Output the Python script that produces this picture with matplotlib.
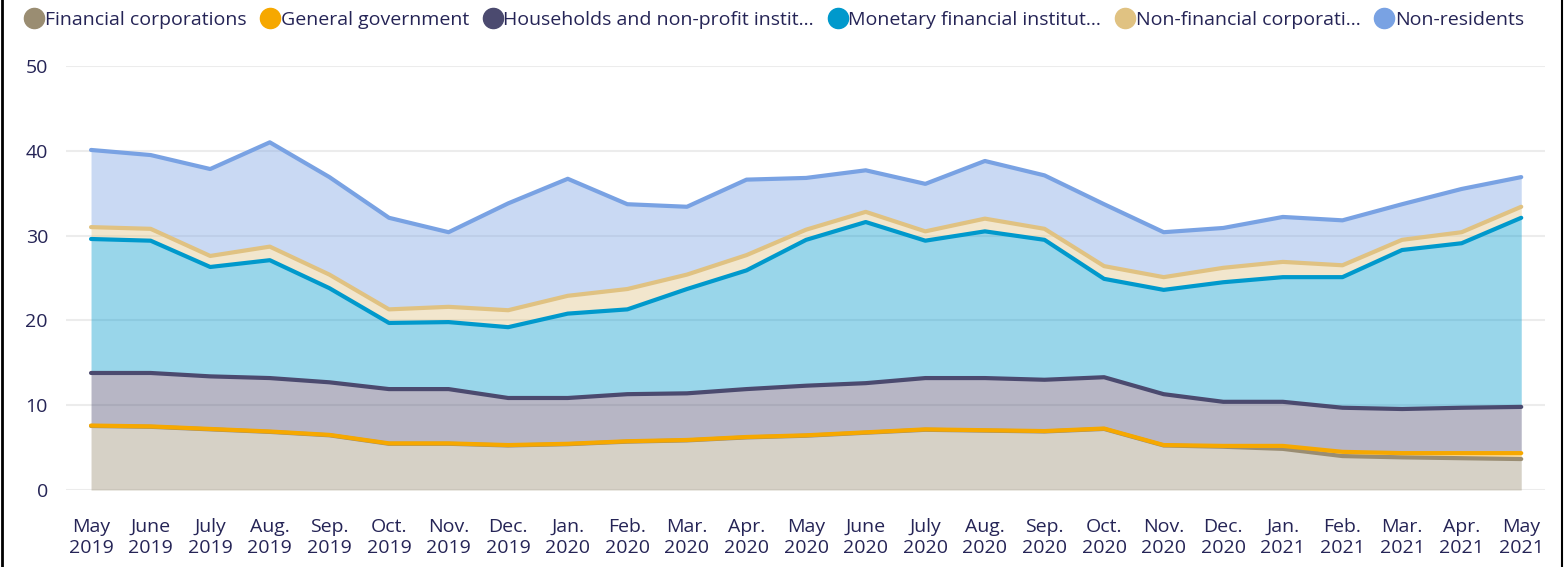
import numpy as np
import matplotlib
matplotlib.use("Agg")
import matplotlib.pyplot as plt
from matplotlib.lines import Line2D

plt.rcParams['font.family'] = ['Open Sans', 'DejaVu Sans']

months = ["May\n2019", "June\n2019", "July\n2019", "Aug.\n2019", "Sep.\n2019", "Oct.\n2019",
          "Nov.\n2019", "Dec.\n2019", "Jan.\n2020", "Feb.\n2020", "Mar.\n2020", "Apr.\n2020",
          "May\n2020", "June\n2020", "July\n2020", "Aug.\n2020", "Sep.\n2020", "Oct.\n2020",
          "Nov.\n2020", "Dec.\n2020", "Jan.\n2021", "Feb.\n2021", "Mar.\n2021", "Apr.\n2021",
          "May\n2021"]

# holdings by sector, stacked bottom to top
financial_corps = [7.55, 7.45, 7.15, 6.85, 6.45, 5.45, 5.45, 5.25, 5.40, 5.70, 5.85, 6.20, 6.40,
                   6.75, 7.10, 7.00, 6.90, 7.20, 5.25, 5.10, 4.85, 4.00, 3.85, 3.75, 3.65]
general_gov = [0.05, 0.05, 0.05, 0.05, 0.05, 0.05, 0.05, 0.05, 0.05, 0.05, 0.05, 0.05, 0.05,
               0.05, 0.05, 0.05, 0.05, 0.05, 0.05, 0.10, 0.35, 0.50, 0.50, 0.60, 0.70]
households = [6.20, 6.30, 6.20, 6.30, 6.20, 6.40, 6.40, 5.55, 5.40, 5.55, 5.50, 5.65, 5.85,
              5.80, 6.05, 6.15, 6.05, 6.05, 6.00, 5.20, 5.20, 5.20, 5.20, 5.35, 5.45]
mfi = [15.8, 15.6, 12.9, 13.9, 11.1, 7.8, 7.9, 8.35, 9.95, 10.0, 12.3, 14.0, 17.2,
       19.0, 16.2, 17.3, 16.5, 11.6, 12.3, 14.1, 14.7, 15.4, 18.75, 19.4, 22.3]
non_fin_corps = [1.4, 1.4, 1.3, 1.6, 1.6, 1.6, 1.8, 2.0, 2.1, 2.4, 1.7, 1.8, 1.2,
                 1.2, 1.1, 1.5, 1.3, 1.5, 1.5, 1.7, 1.8, 1.4, 1.2, 1.3, 1.3]
non_residents = [9.1, 8.7, 10.25, 12.3, 11.5, 10.8, 8.8, 12.6, 13.8, 10.0, 8.0, 8.9, 6.1,
                 4.9, 5.6, 6.8, 6.3, 7.3, 5.3, 4.7, 5.3, 5.3, 4.2, 5.1, 3.5]

labels = ["Financial corporations", "General government", "Households and non-profit instit…",
          "Monetary financial institut…", "Non-financial corporati…", "Non-residents"]
colors = ["#9a8d72", "#f6a800", "#4b4a6f", "#0099cc", "#e0c282", "#79a2e3"]
series = [financial_corps, general_gov, households, mfi, non_fin_corps, non_residents]

text_color = "#252456"

fig = plt.figure(figsize=(15.64, 5.67), dpi=100)
ax = fig.add_axes([0.0422, 0.1358, 0.9457, 0.7478])

x = np.arange(len(months))
base = np.zeros(len(months))
for vals, col in zip(series, colors):
    top = base + np.array(vals)
    ax.fill_between(x, base, top, color=col, alpha=0.4, lw=0, zorder=2)
    base = top

base = np.zeros(len(months))
handles = []
for vals, col, lab in zip(series, colors, labels):
    base = base + np.array(vals)
    ax.plot(x, base, color=col, lw=3, solid_capstyle='round', zorder=3)
    handles.append(Line2D([], [], marker='o', ls='', markersize=14.5, color=col, label=lab))

ax.set_xlim(-0.42, 24.4)
ax.set_ylim(0, 50)
ax.set_yticks([0, 10, 20, 30, 40, 50])
ax.set_xticks(x)
ax.set_xticklabels(months, linespacing=1.2)
ax.yaxis.grid(True, color="#ececec", lw=1.5, zorder=0)
ax.set_axisbelow(True)
for s in ax.spines.values():
    s.set_visible(False)
ax.tick_params(axis='both', length=0, labelsize=14, colors=text_color)
ax.tick_params(axis='y', pad=13)
ax.tick_params(axis='x', pad=20)

fig.legend(handles=handles, loc='upper left', bbox_to_anchor=(0.008, 1.005), ncol=6,
           frameon=False, fontsize=14, handlelength=0.8, handletextpad=0.15,
           columnspacing=0.82, labelcolor=text_color, borderaxespad=0.3)

# black frame lines at the left and right edges
fig.add_artist(Line2D([0.001, 0.001], [0, 1], transform=fig.transFigure, color='black', lw=2))
fig.add_artist(Line2D([0.9985, 0.9985], [0, 1], transform=fig.transFigure, color='black', lw=1.5))

fig.savefig("out.png", dpi=100)
